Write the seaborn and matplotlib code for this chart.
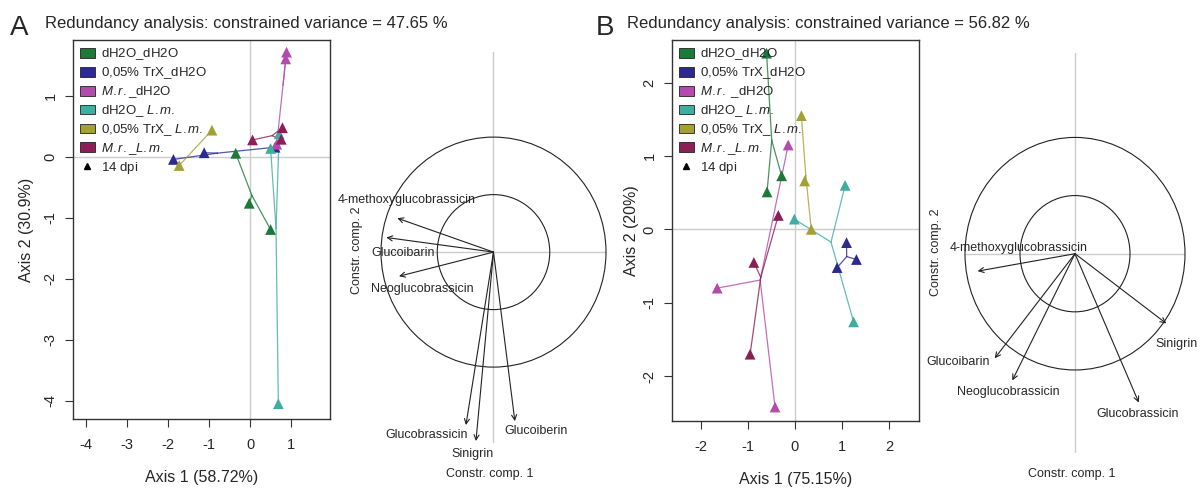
import pandas as pd
import seaborn as sns
import matplotlib.pyplot as plt
from matplotlib.patches import Patch, Circle
from matplotlib.lines import Line2D

sns.set_theme(style="ticks")
plt.rcParams['font.family'] = ['Liberation Sans', 'DejaVu Sans']
plt.rcParams['mathtext.fontset'] = 'custom'
plt.rcParams['mathtext.rm'] = 'Liberation Sans'
plt.rcParams['mathtext.it'] = 'Liberation Sans:italic'

groups = ['dH2O_dH2O', '0,05% TrX_dH2O', 'M.r._dH2O', 'dH2O_L.m.', '0,05% TrX_L.m.', 'M.r._L.m.']
colors = ['#1b7a3a', '#2b2a8e', '#b54aad', '#3fada0', '#a3a133', '#8c1f55']
# every label goes through mathtext so the rows get the same height
labels_a = [r'$\mathregular{dH2O}$_dH2O', r'0,05% TrX_$\mathregular{dH2O}$', r'$\mathit{M.r.}$_dH2O',
            r'dH2O_ $\mathit{L.m.}$', r'0,05% TrX_ $\mathit{L.m.}$', r'$\mathit{M.r.}$_$\mathit{L.m.}$',
            r'14 $\mathregular{dpi}$']
labels_b = [r'$\mathregular{dH2O}$_dH2O', r'0,05% TrX_$\mathregular{dH2O}$', r'$\mathit{M.r.}$ _dH2O',
            r'dH2O_ $\mathit{L.m.}$', r'0,05% TrX_ $\mathit{L.m.}$', r'$\mathit{M.r.}$_$\mathit{L.m.}$',
            r'14 $\mathregular{dpi}$']

# panel A: site scores
a_group = ['dH2O_dH2O'] * 3 + ['0,05% TrX_dH2O'] * 3 + ['M.r._dH2O'] * 3 + \
          ['dH2O_L.m.'] * 3 + ['0,05% TrX_L.m.'] * 2 + ['M.r._L.m.'] * 3
a_axis1 = [-0.35, -0.02, 0.50, -1.87, -1.12, 0.61, 0.89, 0.87, 0.65,
           0.71, 0.50, 0.69, -0.93, -1.73, 0.06, 0.79, 0.76]
a_axis2 = [0.06, -0.76, -1.19, -0.04, 0.07, 0.16, 1.72, 1.61, 0.21,
           0.38, 0.14, -4.05, 0.44, -0.14, 0.28, 0.48, 0.29]

# panel A: glucosinolate arrows
a_gsl = ['4-methoxyglucobrassicin', 'Glucoibarin', 'Neoglucobrassicin', 'Glucobrassicin', 'Sinigrin', 'Glucoiberin']
a_comp1 = [-0.855, -0.953, -0.84, -0.245, -0.156, 0.19]
a_comp2 = [0.295, 0.127, -0.21, -1.504, -1.643, -1.47]
a_lab1 = [-0.77, -0.80, -0.63, -0.59, -0.19, 0.38]
a_lab2 = [0.45, -0.01, -0.32, -1.59, -1.76, -1.56]

# panel B: site scores
b_group = [g for g in groups for _ in range(3)]
b_axis1 = [-0.60, -0.28, -0.59, 1.10, 1.31, 0.90, -0.14, -1.65, -0.42,
           1.07, -0.01, 1.25, 0.14, 0.21, 0.35, -0.35, -0.87, -0.95]
b_axis2 = [2.40, 0.73, 0.51, -0.18, -0.41, -0.52, 1.15, -0.80, -2.42,
           0.60, 0.14, -1.26, 1.55, 0.66, 0.00, 0.19, -0.45, -1.70]

# panel B: glucosinolate arrows
b_gsl = ['4-methoxyglucobrassicin', 'Glucoibarin', 'Neoglucobrassicin', 'Glucobrassicin', 'Sinigrin']
b_comp1 = [-0.885, -0.73, -0.57, 0.58, 0.83]
b_comp2 = [-0.15, -0.90, -1.09, -1.28, -0.60]
b_lab1 = [-0.51, -1.06, -0.61, 0.565, 0.92]
b_lab2 = [0.05, -0.93, -1.19, -1.38, -0.78]

palette = dict(zip(groups, colors))
W, H = 1203, 490
fig = plt.figure(figsize=(W / 100, H / 100), dpi=100)


def px_axes(left, top, right, bottom):
    return fig.add_axes([left / W, 1 - bottom / H, (right - left) / W, (bottom - top) / H])


def site_plot(ax, df, xlim, ylim, ticks_x, ticks_y, legend_labels, xlab, ylab):
    ax.axhline(0, color='#cccccc', lw=1, zorder=0)
    ax.axvline(0, color='#cccccc', lw=1, zorder=0)
    cent = df.groupby('group')[['ax1', 'ax2']].mean()
    for _, row in df.iterrows():
        c = cent.loc[row['group']]
        ax.plot([c['ax1'], row['ax1']], [c['ax2'], row['ax2']], color=palette[row['group']],
                lw=0.9, alpha=0.8, zorder=1)
    sns.scatterplot(data=df, x='ax1', y='ax2', hue='group', palette=palette, marker='^',
                    s=60, linewidth=0, legend=False, ax=ax, zorder=3)
    ax.set_xlim(*xlim)
    ax.set_ylim(*ylim)
    ax.set_xticks(ticks_x)
    ax.set_yticks(ticks_y)
    ax.set_xticklabels([str(t) for t in ticks_x])
    ax.set_yticklabels([str(t) for t in ticks_y], rotation=90, va='center')
    ax.tick_params(direction='out', length=6, width=0.8, color='#333333', labelsize=10.5)
    ax.tick_params(axis='x', pad=8)
    ax.tick_params(axis='y', pad=5)
    for sp in ax.spines.values():
        sp.set_visible(True)
        sp.set_color('#333333')
        sp.set_linewidth(1)
    ax.set_xlabel(xlab, fontsize=11.5)
    ax.set_ylabel(ylab, fontsize=11.5)
    handles = [Patch(facecolor=c, edgecolor='#222222', lw=0.6) for c in colors]
    handles.append(Line2D([], [], marker='^', color='black', linestyle='None', markersize=5))
    ax.legend(handles, legend_labels, loc='upper left', bbox_to_anchor=(0, 1), frameon=False,
              fontsize=9.5, handlelength=1.15, handleheight=0.75, handletextpad=0.5,
              labelspacing=0.23, borderaxespad=0.3, borderpad=0.2)


def circle_plot(ax, comp1, comp2, lab1, lab2, names, ylim):
    ax.set_xlim(-1, 1)
    ax.set_ylim(*ylim)
    ax.axis('off')
    ax.axhline(0, color='#cccccc', lw=1, zorder=0)
    ax.axvline(0, color='#cccccc', lw=1, zorder=0)
    for r in (1.0, 0.5):
        ax.add_patch(Circle((0, 0), r, fill=False, edgecolor='#222222', lw=0.8, clip_on=False))
    for x, y, lx, ly, n in zip(comp1, comp2, lab1, lab2, names):
        ax.annotate('', xy=(x, y), xytext=(0, 0), annotation_clip=False,
                    arrowprops=dict(arrowstyle='->', lw=0.8, color='#222222', mutation_scale=9,
                                    shrinkA=0, shrinkB=0))
        ax.text(lx, ly, n, ha='center', va='center', fontsize=9, clip_on=False)


# panel A
df_a = pd.DataFrame({'group': a_group, 'ax1': a_axis1, 'ax2': a_axis2})
ax1 = px_axes(73, 40, 330, 419)
site_plot(ax1, df_a, (-4.32, 1.95), (-4.3, 1.92), [-4, -3, -2, -1, 0, 1], [-4, -3, -2, -1, 0, 1],
          labels_a, 'Axis 1 (58.72%)', 'Axis 2 (30.9%)')
ax1.xaxis.set_label_coords(0.5, -0.135)
ax1.yaxis.set_label_coords(-0.15, 0.5)
ax2 = px_axes(381, 52, 606, 443)
circle_plot(ax2, a_comp1, a_comp2, a_lab1, a_lab2, a_gsl, (-1.66, 1.74))
fig.text(357 / W, 1 - 250 / H, 'Constr. comp. 2', rotation=90, ha='center', va='center', fontsize=9)
fig.text(490 / W, 1 - 474 / H, 'Constr. comp. 1', ha='center', va='center', fontsize=9)

# panel B
df_b = pd.DataFrame({'group': b_group, 'ax1': b_axis1, 'ax2': b_axis2})
ax3 = px_axes(672, 40, 919, 421)
site_plot(ax3, df_b, (-2.61, 2.64), (-2.61, 2.58), [-2, -1, 0, 1, 2], [-2, -1, 0, 1, 2],
          labels_b, 'Axis 1 (75.15%)', 'Axis 2 (20%)')
ax3.xaxis.set_label_coords(0.5, -0.135)
ax3.yaxis.set_label_coords(-0.135, 0.5)
ax4 = px_axes(965, 53, 1185, 453)
circle_plot(ax4, b_comp1, b_comp2, b_lab1, b_lab2, b_gsl, (-1.714, 1.726))
fig.text(936 / W, 1 - 252 / H, 'Constr. comp. 2', rotation=90, ha='center', va='center', fontsize=9)
fig.text(1072 / W, 1 - 474 / H, 'Constr. comp. 1', ha='center', va='center', fontsize=9)

# panel letters and titles
fig.text(10 / W, 1 - 35 / H, 'A', fontsize=20, va='baseline')
fig.text(45 / W, 1 - 28 / H, 'Redundancy analysis: constrained variance = 47.65 %', fontsize=12, va='baseline')
fig.text(596 / W, 1 - 35 / H, 'B', fontsize=20, va='baseline')
fig.text(627 / W, 1 - 28 / H, 'Redundancy analysis: constrained variance = 56.82 %', fontsize=12, va='baseline')

fig.savefig('out.png', dpi=100)
